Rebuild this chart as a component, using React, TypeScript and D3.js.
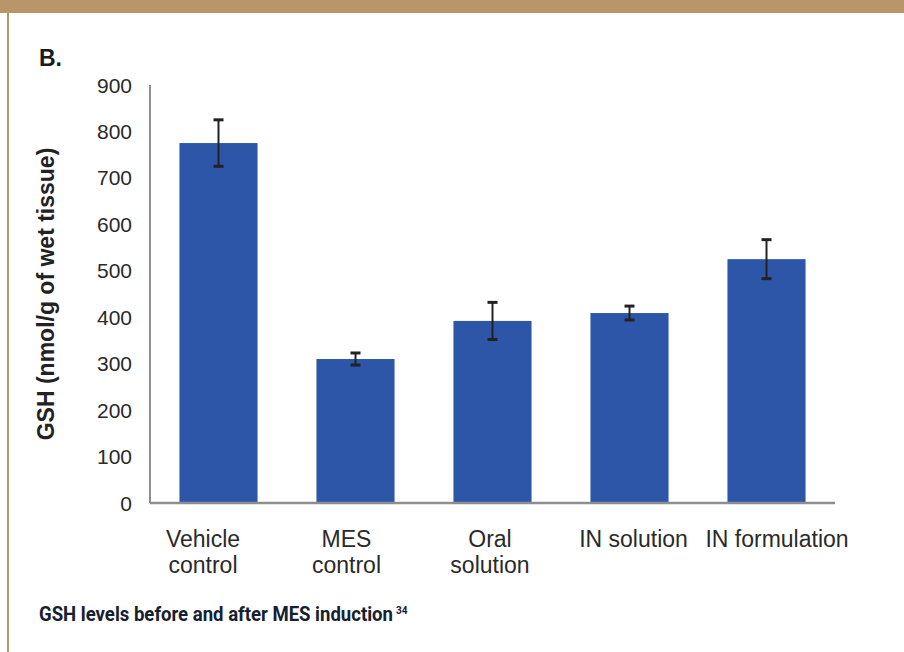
import React, { useLayoutEffect, useRef, useState } from "react";
import * as d3 from "d3";

const categories = ["Vehicle control", "MES control", "Oral solution", "IN solution", "IN formulation"];
const labelLines = [["Vehicle", "control"], ["MES", "control"], ["Oral", "solution"], ["IN solution"], ["IN formulation"]];
const values = [775, 310, 392, 409, 525];
const errors = [50, 13, 40, 15, 42];
const yTicks = [0, 100, 200, 300, 400, 500, 600, 700, 800, 900];
const captionText = "GSH levels before and after MES induction";
const captionRef = "34";

const W = 904;
const H = 652;
const plot = { left: 150, right: 835, top: 85, bottom: 503 };
const FONT = "'Liberation Sans', Arial, Helvetica, sans-serif";
const CAPTION_W = 354;

export default function App() {
  const capRef = useRef<SVGTextElement>(null);
  const [capScale, setCapScale] = useState(0.78);

  useLayoutEffect(() => {
    if (capRef.current) {
      const len = capRef.current.getComputedTextLength();
      if (len > 0) setCapScale(CAPTION_W / len);
    }
  }, []);

  const y = d3.scaleLinear().domain([0, 900]).range([plot.bottom, plot.top]);
  const x = d3
    .scaleBand<string>()
    .domain(categories)
    .range([plot.left, plot.right])
    .paddingInner(0.43)
    .paddingOuter(0.215);
  const xLabel = d3.scalePoint<string>().domain(categories).range([203, 777]);
  const bw = x.bandwidth();

  return (
    <svg
      width={W}
      height={H}
      viewBox={`0 0 ${W} ${H}`}
      style={{ position: "absolute", left: 0, top: 0, background: "#fff" }}
    >
      <rect x={0} y={0} width={W} height={H} fill="#fff" />
      {/* frame */}
      <rect x={0} y={0} width={W} height={13} fill="#b8966a" />
      <rect x={7} y={13} width={2} height={H - 13} fill="#b8966a" />

      <text x={39} y={66} fontFamily={FONT} fontSize={23} fontWeight={600} fill="#1a1a1a">B.</text>

      {/* y axis title */}
      <text
        transform={`translate(54,${(plot.top + plot.bottom) / 2}) rotate(-90)`}
        textAnchor="middle"
        fontFamily={FONT}
        fontSize={23}
        fontWeight="bold"
        fill="#222"
      >
        GSH (nmol/g of wet tissue)
      </text>

      {/* y tick labels */}
      {yTicks.map((t) => (
        <text
          key={t}
          x={132}
          y={y(t)}
          dy="0.36em"
          textAnchor="end"
          fontFamily={FONT}
          fontSize={21}
          fill="#2a2a2a"
        >
          {t}
        </text>
      ))}

      {/* bars */}
      {categories.map((c, i) => (
        <rect
          key={c}
          x={x(c)!}
          y={y(values[i])}
          width={bw}
          height={y(0) - y(values[i])}
          fill="#2d56a8"
        />
      ))}

      {/* error bars */}
      {categories.map((c, i) => {
        const cx = x(c)! + bw / 2;
        const hi = y(values[i] + errors[i]);
        const lo = y(values[i] - errors[i]);
        return (
          <g key={c} stroke="#222" strokeWidth={2}>
            <line x1={cx} x2={cx} y1={hi} y2={lo} />
            <line x1={cx - 5} x2={cx + 5} y1={hi} y2={hi} strokeWidth={3} />
            <line x1={cx - 5} x2={cx + 5} y1={lo} y2={lo} strokeWidth={3} />
          </g>
        );
      })}

      {/* axes */}
      <line x1={plot.left} x2={plot.left} y1={plot.top} y2={plot.bottom} stroke="#8e8e8e" strokeWidth={2} />
      <line x1={plot.left} x2={plot.right} y1={plot.bottom} y2={plot.bottom} stroke="#8e8e8e" strokeWidth={2.5} />

      {/* category labels */}
      {categories.map((c, i) => (
        <text
          key={c}
          x={xLabel(c)!}
          y={547}
          textAnchor="middle"
          fontFamily={FONT}
          fontSize={23}
          fill="#2a2a2a"
        >
          {labelLines[i].map((ln, j) => (
            <tspan key={j} x={xLabel(c)!} dy={j === 0 ? 0 : 26}>
              {ln}
            </tspan>
          ))}
        </text>
      ))}

      {/* caption */}
      <text
        ref={capRef}
        transform={`translate(39,621) scale(${capScale},1)`}
        fontFamily="Roboto, 'Liberation Sans', Arial, sans-serif"
        fontWeight="bold"
        fontSize={20}
        fill="#16202f"
      >
        {captionText}
      </text>
      <text
        x={39 + CAPTION_W + 3}
        y={614}
        fontFamily="Roboto, 'Liberation Sans', Arial, sans-serif"
        fontWeight="bold"
        fontSize={10}
        fill="#16202f"
      >
        {captionRef}
      </text>
    </svg>
  );
}
